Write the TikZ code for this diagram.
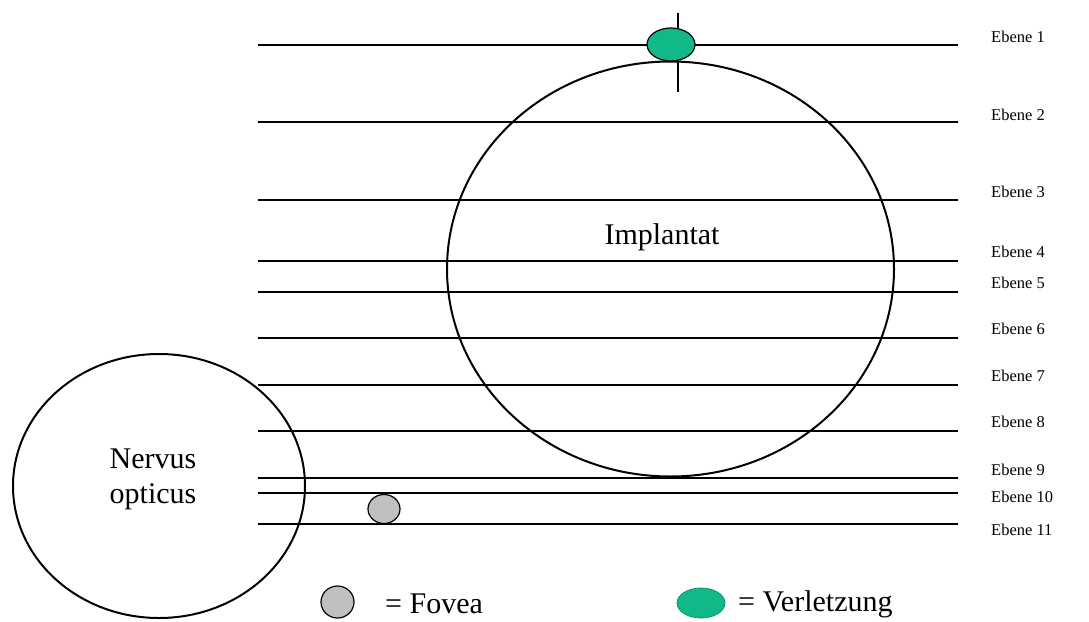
\documentclass[tikz,border=0pt]{standalone}
\usepackage{fontspec}
\setmainfont{Liberation Serif}
\definecolor{injury}{RGB}{16,184,138}
\definecolor{fovea}{RGB}{192,192,192}
\begin{document}
\begin{tikzpicture}[x=1pt,y=-1pt,
  level/.style={line width=2pt},
  outline/.style={draw=black,line width=2pt},
  lbl/.style={anchor=west,inner sep=0pt,font=\fontsize{16.5}{18}\selectfont},
  big/.style={inner sep=0pt,font=\fontsize{30}{34}\selectfont}]
\useasboundingbox (0,0) rectangle (1089,621);
% levels
\foreach \n/\y/\ty in {1/45/37,2/122/115,3/200/192,4/261/252,5/292/283,6/338/329,7/385/376,8/431/422,9/478/470,10/493/497,11/524/530}{
  \coordinate (l\n a) at (258,\y);
  \coordinate (l\n b) at (958,\y);
  \draw[level] (l\n a) -- (l\n b);
  \node[lbl] (e\n) at (991,\ty) {Ebene \n};
}
% implant
\draw[outline] (670.5,269) ellipse [x radius=223.5, y radius=207.5];
\node[big] (impl) at (662,237) {Implantat};
% nervus opticus
\draw[outline] (159,486) ellipse [x radius=146, y radius=132];
\node[big,align=center] (nerv) at (153,479) {Nervus\\[1pt]opticus};
% injury
\coordinate (vt) at (678,13);
\coordinate (vb) at (678,92);
\draw[level] (vt) -- (vb);
\draw[outline,fill=injury,line width=1.2pt] (671,44.5) ellipse [x radius=24, y radius=16.5];
% fovea
\draw[outline,fill=fovea,line width=1.2pt] (384,509) ellipse [x radius=16, y radius=14.5];
% legend
\draw[outline,fill=fovea,line width=1.2pt] (337.5,602) ellipse [x radius=16.5, y radius=16];
\node[big,anchor=west] (lf) at (385,604) {= Fovea};
\draw[fill=injury,draw=injury!80!black,line width=0.8pt] (701,603) ellipse [x radius=24, y radius=15];
\node[big,anchor=west] (lv) at (738,604) {= Verletzung};
\end{tikzpicture}
\end{document}
